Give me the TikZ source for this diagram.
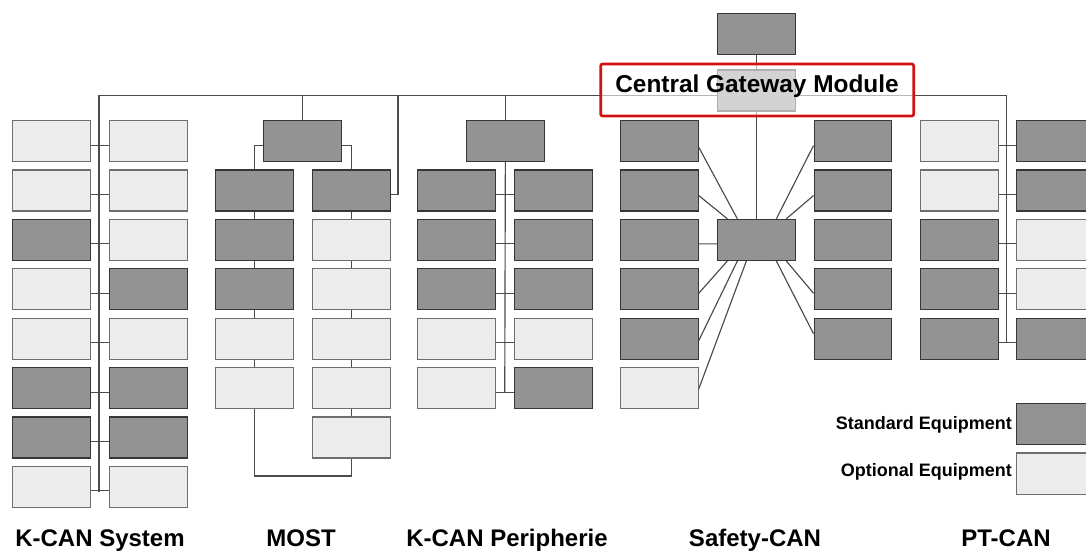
\documentclass[tikz,border=0pt]{standalone}
\usepackage{fontspec}
\setmainfont{Liberation Sans}
\definecolor{dkfill}{RGB}{147,147,147}
\definecolor{dkline}{RGB}{55,55,55}
\definecolor{ltfill}{RGB}{236,236,236}
\definecolor{ltline}{RGB}{110,110,110}
\definecolor{wirecol}{RGB}{75,75,75}
\definecolor{hlred}{RGB}{210,18,18}
\tikzset{
  box/.style={rectangle, line width=1.2pt, minimum width=77.5pt, minimum height=41pt, inner sep=0pt, anchor=north west},
  dk/.style={box, fill=dkfill, draw=dkline},
  lt/.style={box, fill=ltfill, draw=ltline},
  wire/.style={draw=wirecol, line width=1.15pt},
  lbl/.style={font=\bfseries\fontsize{24}{28}\selectfont, anchor=base, inner sep=0pt},
  lgtxt/.style={font=\bfseries\fontsize{18}{22}\selectfont, anchor=east, inner sep=0pt},
}
\begin{document}
\begin{tikzpicture}[x=1pt,y=-1pt]
\useasboundingbox (0,0) rectangle (1086,552);
% ---------- K-CAN System ----------
\foreach \s [count=\r] in {lt,lt,dk,lt,lt,dk,dk,lt}{
  \pgfmathsetmacro\ry{120+(\r-1)*49.4}
  \node[\s] (kl\r) at (12,\ry) {};
}
\foreach \s [count=\r] in {lt,lt,lt,dk,lt,dk,dk,lt}{
  \pgfmathsetmacro\ry{120+(\r-1)*49.4}
  \node[\s] (kr\r) at (109,\ry) {};
}
\foreach \r in {1,...,8}
  \draw[wire] ([yshift=-4pt]kl\r.east) -- ([yshift=-4pt]kr\r.west);
\coordinate (kbot) at (99,492);
% ---------- MOST ----------
\node[dk] (mt) at (263,120) {};
\foreach \s [count=\r from 2] in {dk,dk,dk,lt,lt}{
  \pgfmathsetmacro\ry{120+(\r-1)*49.4}
  \node[\s] (ml\r) at (215,\ry) {};
}
\foreach \s [count=\r from 2] in {dk,lt,lt,lt,lt,lt}{
  \pgfmathsetmacro\ry{120+(\r-1)*49.4}
  \node[\s] (mr\r) at (312,\ry) {};
}
\foreach \r [count=\n from 3] in {2,...,5}
  \draw[wire] (ml\r.south) -- (ml\n.north);
\foreach \r [count=\n from 3] in {2,...,6}
  \draw[wire] (mr\r.south) -- (mr\n.north);
\draw[wire] ([yshift=-4pt]mt.west) -| (ml2.north);
\draw[wire] ([yshift=-4pt]mt.east) -| (mr2.north);
\coordinate (mbot) at (300,476);
\draw[wire] (ml6.south) |- (mbot) -| (mr7.south);
\coordinate (mbus) at (398,95);
\draw[wire] ([yshift=-4pt]mr2.east) -| (mbus);
% ---------- K-CAN Peripherie ----------
\node[dk] (pt) at (466,120) {};
\foreach \s [count=\r from 2] in {dk,dk,dk,lt,lt}{
  \pgfmathsetmacro\ry{120+(\r-1)*49.4}
  \node[\s] (pl\r) at (417,\ry) {};
}
\foreach \s [count=\r from 2] in {dk,dk,dk,lt,dk}{
  \pgfmathsetmacro\ry{120+(\r-1)*49.4}
  \node[\s] (pr\r) at (514,\ry) {};
}
\foreach \r in {2,...,6}
  \draw[wire] ([yshift=-4pt]pl\r.east) -- ([yshift=-4pt]pr\r.west);
\coordinate (pbot) at (504.75,392);
\draw[wire] (pt.south) -- (pbot);
% ---------- Safety-CAN ----------
\node[dk] (tp) at (717,12.7) {};
\node[dk] (gw) at (717,69.3) {};
\node[dk] (sc) at (717,218.8) {};
\foreach \s [count=\r] in {dk,dk,dk,dk,dk,lt}{
  \pgfmathsetmacro\ry{120+(\r-1)*49.4}
  \node[\s] (sl\r) at (620,\ry) {};
}
\foreach \s [count=\r] in {dk,dk,dk,dk,dk}{
  \pgfmathsetmacro\ry{120+(\r-1)*49.4}
  \node[\s] (sr\r) at (813.5,\ry) {};
}
\draw[wire] (tp.south) -- (gw.north);
\draw[wire] (gw.south) -- (sc.north);
\draw[wire] ([yshift=-6pt]sl1.east) -- ([xshift=-19pt]sc.north);
\draw[wire] ([yshift=-5pt]sl2.east) -- ([xshift=-29pt]sc.north);
\draw[wire] ([yshift=-4pt]sl3.east) -- ([yshift=-4pt]sc.west);
\draw[wire] ([yshift=-4pt]sl4.east) -- ([xshift=-29pt]sc.south);
\draw[wire] ([yshift=-2pt]sl5.east) -- ([xshift=-19pt]sc.south);
\draw[wire] ([yshift=-1pt]sl6.east) -- ([xshift=-10pt]sc.south);
\draw[wire] ([yshift=-4.5pt]sr1.west) -- ([xshift=20pt]sc.north);
\draw[wire] ([yshift=-5pt]sr2.west) -- ([xshift=30pt]sc.north);
\draw[wire] ([yshift=-4pt]sr4.west) -- ([xshift=30pt]sc.south);
\draw[wire] ([yshift=5pt]sr5.west) -- ([xshift=20pt]sc.south);
% ---------- PT-CAN ----------
\foreach \s [count=\r] in {lt,lt,dk,dk,dk}{
  \pgfmathsetmacro\ry{120+(\r-1)*49.4}
  \node[\s] (il\r) at (920,\ry) {};
}
\foreach \s [count=\r] in {dk,dk,lt,lt,dk}{
  \pgfmathsetmacro\ry{120+(\r-1)*49.4}
  \node[\s] (ir\r) at (1016,\ry) {};
}
\foreach \r in {1,...,5}
  \draw[wire] ([yshift=-4pt]il\r.east) -- ([yshift=-4pt]ir\r.west);
\coordinate (ibot) at (1006.75,342.5);
% ---------- main bus ----------
\draw[wire] (kbot) |- ([yshift=-5pt]gw.west);
\draw[wire] ([yshift=-5pt]gw.east) -| (ibot);
\draw[wire] (mt.north) -- (mt.north |- mbus);
\draw[wire] (pt.north) -- (pt.north |- mbus);
% ---------- highlight ----------
\node[draw=hlred, line width=2.7pt, rounded corners=2pt, fill=white, fill opacity=0.6,
      minimum width=313pt, minimum height=52pt, inner sep=0pt] (hl) at (757.2,90) {};
\node[font=\bfseries\fontsize{24.4}{28}\selectfont, anchor=base, inner sep=0pt] (gwtxt) at (757,92) {Central Gateway Module};
% ---------- legend ----------
\node[dk, minimum height=41.3pt] (lgd) at (1016,402.7) {};
\node[lt, minimum height=41.3pt] (lgl) at (1016,452.3) {};
\node[lgtxt] (lgdt) at (1012,425) {Standard Equipment};
\node[lgtxt] (lglt) at (1012,472) {Optional Equipment};
% ---------- bottom labels ----------
\node[lbl] (l1) at (100,546) {K-CAN System};
\node[lbl] (l2) at (301,546) {MOST};
\node[lbl] (l3) at (507,546) {K-CAN Peripherie};
\node[lbl] (l4) at (755,546) {Safety-CAN};
\node[lbl] (l5) at (1006,546) {PT-CAN};
\end{tikzpicture}
\end{document}
